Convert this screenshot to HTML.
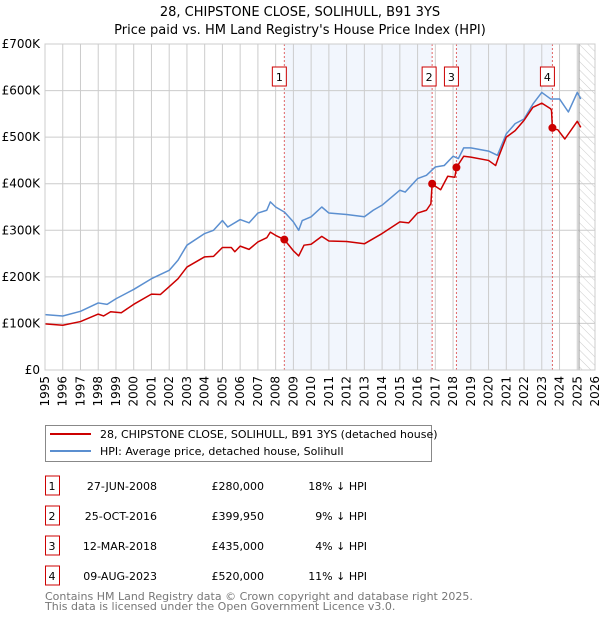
<!DOCTYPE html>
<html><head><meta charset="utf-8"><style>
body{margin:0;background:#fff;font-family:"Liberation Sans","DejaVu Sans",sans-serif;}
svg text{font-family:"DejaVu Sans","Liberation Sans",sans-serif;}
</style></head><body>
<svg id="c" width="600" height="620" xmlns="http://www.w3.org/2000/svg">
<defs><pattern id="hatch" width="6" height="6" patternUnits="userSpaceOnUse" patternTransform="rotate(-45)"><line x1="0" y1="0" x2="0" y2="6" stroke="#ccc" stroke-width="1"/></pattern></defs>
<text x="300" y="16" text-anchor="middle" font-size="13">28, CHIPSTONE CLOSE, SOLIHULL, B91 3YS</text>
<text x="300" y="34" text-anchor="middle" font-size="13">Price paid vs. HM Land Registry's House Price Index (HPI)</text>
<g id="plot"></g>
<g>
<rect x="45.5" y="425.5" width="386" height="36" fill="#fff" stroke="#888"/>
<line x1="50" y1="434" x2="91" y2="434" stroke="#cc0000" stroke-width="2"/>
<text x="100" y="438" font-size="11">28, CHIPSTONE CLOSE, SOLIHULL, B91 3YS (detached house)</text>
<line x1="50" y1="451" x2="91" y2="451" stroke="#5b8fd0" stroke-width="2"/>
<text x="100" y="455" font-size="11">HPI: Average price, detached house, Solihull</text>
</g>
<g id="table" font-size="11"></g>
<text x="45" y="600" font-size="11" fill="#777">Contains HM Land Registry data © Crown copyright and database right 2025.</text>
<text x="45" y="610" font-size="11" fill="#777">This data is licensed under the Open Government Licence v3.0.</text>
</svg>
<script>
const hpiYears=[1995,1996,1997,1998,1998.5,1999,2000,2001,2002,2002.5,2003,2004,2004.5,2005,2005.3,2006,2006.5,2007,2007.5,2007.7,2008,2008.5,2009,2009.3,2009.5,2010,2010.6,2011,2012,2013,2013.5,2014,2015,2015.3,2016,2016.5,2017,2017.5,2018,2018.3,2018.6,2019,2020,2020.5,2021,2021.5,2022,2022.5,2023,2023.5,2024,2024.5,2025,2025.2];
const hpiValues=[119,116,126,144,141,153,173,196,214,236,268,293,300,321,307,323,316,337,343,361,350,339,318,300,321,329,350,337,334,329,343,354,386,382,411,418,436,439,459,454,477,477,470,461,507,529,539,571,596,582,582,554,596,582];
const priceYears=[1995,1996,1997,1998,1998.3,1998.7,1999.3,2000,2001,2001.5,2002,2002.5,2003,2004,2004.5,2005,2005.5,2005.7,2006,2006.5,2007,2007.5,2007.7,2008,2008.49,2009,2009.3,2009.6,2010,2010.6,2011,2012,2013,2013.5,2014,2015,2015.5,2016,2016.5,2016.75,2016.82,2017.3,2017.7,2018.1,2018.19,2018.6,2019,2020,2020.4,2020.6,2021,2021.5,2022,2022.5,2023,2023.5,2023.55,2023.6,2023.9,2024.3,2025,2025.2];
const priceValues=[99,96,104,120,116,125,123,141,163,162,179,196,221,243,244,263,263,254,266,259,275,284,296,289,280,256,245,268,270,287,277,276,271,282,293,318,316,337,343,357,399,387,416,414,435,459,457,450,439,461,500,514,536,564,573,561,557,518,516,496,534,521];
const saleLabels=["1","2","3","4"];
const saleYears=[2008.49,2016.82,2018.19,2023.6];
const salePrices=[280,399.95,435,520];
const saleDates=["27-JUN-2008","25-OCT-2016","12-MAR-2018","09-AUG-2023"];
const salePriceText=["£280,000","£399,950","£435,000","£520,000"];
const saleDiff=["18% ↓ HPI","9% ↓ HPI","4% ↓ HPI","11% ↓ HPI"];
const yTicks=[0,100,200,300,400,500,600,700];
const yTickLabels=["£0","£100K","£200K","£300K","£400K","£500K","£600K","£700K"];
const xTicks=[1995,1996,1997,1998,1999,2000,2001,2002,2003,2004,2005,2006,2007,2008,2009,2010,2011,2012,2013,2014,2015,2016,2017,2018,2019,2020,2021,2022,2023,2024,2025,2026];

const L=45,R=595,T=44,B=370;
const x=v=>L+(v-1995)/(2026-1995)*(R-L);
const y=v=>B-v/700*(B-T);
const NS="http://www.w3.org/2000/svg";
const g=document.getElementById('plot');
function mk(tag,attrs,parent){const e=document.createElementNS(NS,tag);for(const k in attrs)e.setAttribute(k,attrs[k]);(parent||g).appendChild(e);return e;}
// shaded ownership periods
for(let i=0;i<saleYears.length;i++){
  const x0=x(saleYears[i]);
  const x1=i+1<saleYears.length?x(saleYears[i+1]):x(2025.1);
  if(i===2||i===0){
    const r=mk('rect',{x:x0,y:T,width:x1-x0,height:B-T,fill:'#eef3fc',opacity:0.75});
    
    
  }
}
const hz=mk('rect',{x:x(2025.1),y:T,width:R-x(2025.1),height:B-T,fill:'url(#hatch)'});


// grid
xTicks.forEach(t=>{
  const ln=mk('line',{x1:x(t),x2:x(t),y1:T,y2:B,stroke:'#ccc','stroke-width':1});
  
  
  const tx=mk('text',{x:0,y:0,'font-size':12,'text-anchor':'end',transform:`translate(${x(t)+4},${B+6}) rotate(-90)`});
  tx.textContent=t;
  
  
});
yTicks.forEach((t,i)=>{
  const ln=mk('line',{x1:L,x2:R,y1:y(t),y2:y(t),stroke:'#ccc','stroke-width':1});
  
  
  const tx=mk('text',{x:L-5,y:y(t)+4,'font-size':12,'text-anchor':'end'});
  tx.textContent=yTickLabels[i];
  
  
});
const nl=mk('line',{x1:x(2025.1),x2:x(2025.1),y1:T,y2:B,stroke:'#999','stroke-width':1});


// sale vlines
saleYears.forEach((s,i)=>{
  const ln=mk('line',{x1:x(s),x2:x(s),y1:T,y2:B,stroke:'#e06666','stroke-width':1,'stroke-dasharray':'2,2'});
  
  
  const bx=x(s)-(i===1?3:5);
  const rb=mk('rect',{x:bx-7,y:67,width:14,height:19,fill:'#fff',stroke:'#cc0000'});
  
  
  const tx=mk('text',{x:bx,y:81,'font-size':11,'text-anchor':'middle'});
  tx.textContent=saleLabels[i];
  
  
});
function line(xs,vs,color,name){
  const p=mk('polyline',{points:xs.map((v,i)=>x(v)+','+y(vs[i])).join(' '),fill:'none',stroke:color,'stroke-width':1.5,'stroke-linejoin':'round'});
  
  
}
line(hpiYears,hpiValues,'#5b8fd0','hpi-line');
line(priceYears,priceValues,'#cc0000','property-price-line');
saleYears.forEach((s,i)=>{
  const c=mk('circle',{cx:x(s),cy:y(salePrices[i]),r:4,fill:'#cc0000'});
  
  
});
const ax=mk('rect',{x:L,y:T,width:R-L,height:B-T,fill:'none',stroke:'#ccc'});


// table
const tb=document.getElementById('table');
saleLabels.forEach((lab,i)=>{
  const cy=483+i*30;
  const r=mk('rect',{x:45.5,y:cy-7,width:14,height:19,fill:'#fff',stroke:'#cc0000'},tb);
  
  
  const cells=[[52,'middle',lab,'table-row-number'],[157,'end',saleDates[i],'table-date'],[264,'end',salePriceText[i],'table-price'],[367,'end',saleDiff[i],'table-hpi-diff']];
  cells.forEach(c=>{
    const t=mk('text',{x:c[0],y:cy+7,'text-anchor':c[1]},tb);
    t.textContent=c[2];
    
    
  });
});
</script>
</body></html>
